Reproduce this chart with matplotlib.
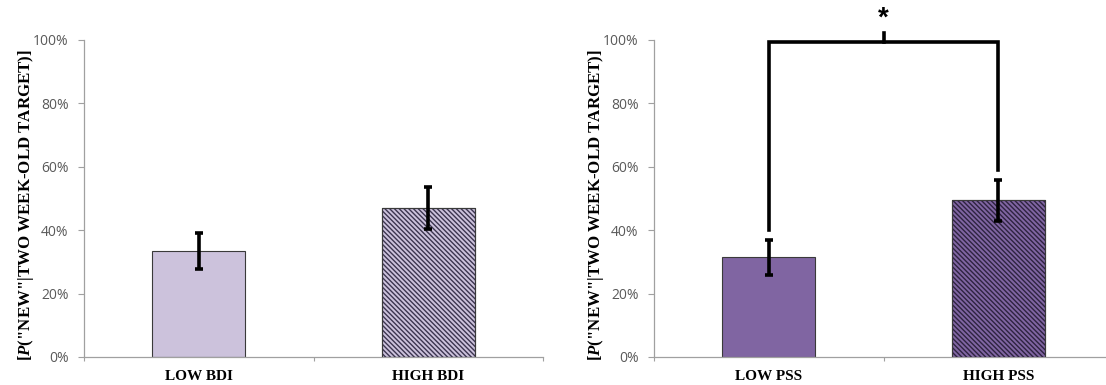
import numpy as np
import matplotlib
matplotlib.use("Agg")
import matplotlib.pyplot as plt

plt.rcParams['mathtext.fontset'] = 'custom'
plt.rcParams['mathtext.it'] = 'Liberation Serif:italic:bold'
plt.rcParams['mathtext.rm'] = 'Liberation Serif:bold'
plt.rcParams['hatch.linewidth'] = 1.0

# proportion "new" responses to two-week-old targets
bdi_groups = ["LOW BDI", "HIGH BDI"]
bdi_means = [0.335, 0.470]
bdi_err = [0.057, 0.066]

pss_groups = ["LOW PSS", "HIGH PSS"]
pss_means = [0.314, 0.494]
pss_err = [0.056, 0.064]

# significance bracket (left leg end, right leg end, top)
sig_left = 0.40
sig_right = 0.59
sig_top = 0.995

ylabel = r'[$\mathit{P}$("NEW"|TWO WEEK-OLD TARGET)]'
W, H = 1106, 385

fig = plt.figure(figsize=(W / 100, H / 100), dpi=100)


def panel(x0, x1, groups, means, errs, fill, hatch_col):
    ax = fig.add_axes([x0 / W, 28 / H, (x1 - x0) / W, 317 / H])
    x = np.arange(len(groups))
    for i in x:
        ax.bar(i, means[i], width=0.405, color=fill, edgecolor='#3a3a3a',
               linewidth=0.8, zorder=2)
        if i == 1:
            ax.bar(i, means[i], width=0.405, color='none', edgecolor=hatch_col,
                   hatch='\\' * 7, linewidth=0, zorder=3)
            ax.bar(i, means[i], width=0.405, color='none', edgecolor='#3a3a3a',
                   linewidth=0.8, zorder=4)
    ax.errorbar(x, means, yerr=errs, fmt='none', ecolor='black', elinewidth=2.6,
                capsize=3.2, capthick=2.6, zorder=5)
    ax.set_xlim(-0.5, len(groups) - 0.5)
    ax.set_ylim(0, 1)
    ax.set_yticks(np.arange(0, 1.01, 0.2))
    ax.set_yticklabels([f"{int(round(v * 100))}%" for v in np.arange(0, 1.01, 0.2)],
                       fontsize=10, color='#595959', family='Open Sans')
    ax.set_xticks(x)
    ax.set_xticklabels(groups, fontsize=11, fontweight='bold', family='Liberation Serif')
    ax.set_xticks([-0.5, 0.5, 1.5], minor=True)
    ax.tick_params(axis='x', which='major', length=0, pad=9)
    ax.tick_params(axis='x', which='minor', length=3, color='#a0a0a0', width=0.8)
    ax.tick_params(axis='y', length=4, color='#a0a0a0', width=0.8, pad=7)
    for s in ['top', 'right']:
        ax.spines[s].set_visible(False)
    for s in ['left', 'bottom']:
        ax.spines[s].set_color('#a0a0a0')
        ax.spines[s].set_linewidth(0.9)
    ax.set_ylabel(ylabel, fontsize=12.2, fontweight='bold', family='Liberation Serif')
    ax.yaxis.set_label_coords(-48 / (x1 - x0), 0.48)
    return ax


ax1 = panel(84, 543, bdi_groups, bdi_means, bdi_err, '#ccc2dc', '#3c3550')
ax2 = panel(654, 1113, pss_groups, pss_means, pss_err, '#8065a2', '#2e2340')

# bracket for the PSS comparison
ax2.plot([0, 0, 1, 1], [sig_left, sig_top, sig_top, sig_right], color='black',
         lw=2.6, solid_joinstyle='miter', clip_on=False, zorder=6)
ax2.plot([0.5, 0.5], [sig_top, sig_top + 0.028], color='black', lw=2.6, clip_on=False)
ax2.text(0.5, sig_top + 0.03, '*', ha='center', va='bottom', fontsize=20,
         fontweight='bold', family='Liberation Sans')

fig.savefig("out.png", dpi=100)
